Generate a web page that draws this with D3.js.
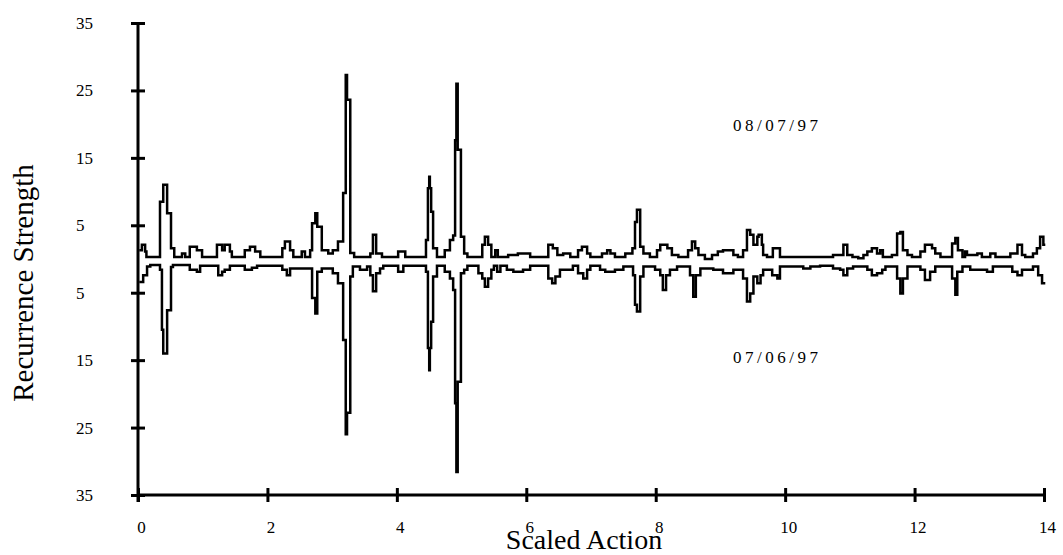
<!DOCTYPE html>
<html>
<head>
<meta charset="utf-8">
<script src="https://cdn.jsdelivr.net/npm/d3@7"></script>
<style>
  body { margin: 0; background: #fff; }
  text { font-family: "Liberation Serif", "Times New Roman", serif; fill: #000; }
</style>
</head>
<body>
<svg id="chart" width="1063" height="555"></svg>
<script>
var xTicks = [0, 2, 4, 6, 8, 10, 12, 14];
var yTicks = [35, 25, 15, 5, -5, -15, -25, -35];

// 08/07/97 trace, drawn upward: step start (scaled action) and strength
var upperX = [0.02, 0.06, 0.11, 0.13, 0.34, 0.39, 0.45, 0.51, 0.56, 0.68, 0.73, 0.80, 0.91, 0.99,
  1.22, 1.30, 1.34, 1.42, 1.45, 1.65, 1.73, 1.81, 1.89, 2.23, 2.27, 2.35, 2.40, 2.53, 2.58,
  2.66, 2.69, 2.74, 2.77, 2.84, 2.94, 3.01, 3.09, 3.17, 3.21, 3.23, 3.28, 3.34, 3.59, 3.63,
  3.68, 3.77, 4.02, 4.13, 4.45, 4.48, 4.50, 4.51, 4.53, 4.56, 4.62, 4.74, 4.82, 4.87, 4.90,
  4.92, 4.94, 4.99, 5.04, 5.09, 5.32, 5.36, 5.41, 5.46, 5.52, 5.56, 5.72, 5.87, 6.06, 6.34,
  6.41, 6.48, 6.57, 6.68, 6.80, 6.86, 6.94, 6.99, 7.17, 7.25, 7.30, 7.37, 7.53, 7.64, 7.68,
  7.71, 7.76, 7.81, 7.91, 8.02, 8.07, 8.18, 8.25, 8.35, 8.50, 8.56, 8.61, 8.66, 8.76, 8.87,
  8.96, 9.04, 9.20, 9.27, 9.35, 9.41, 9.46, 9.51, 9.57, 9.59, 9.64, 9.66, 9.72, 9.81, 9.92,
  10.74, 10.90, 10.96, 11.04, 11.13, 11.21, 11.27, 11.34, 11.42, 11.47, 11.51, 11.65, 11.73,
  11.78, 11.82, 11.89, 11.96, 12.09, 12.16, 12.27, 12.32, 12.40, 12.58, 12.63, 12.67, 12.74,
  12.78, 12.81, 12.97, 13.04, 13.17, 13.25, 13.48, 13.59, 13.66, 13.71, 13.83, 13.89, 13.94,
  13.99, 14.02];
var upperV = [1.3, 2.1, 1.1, 0.3, 8.5, 11.0, 6.8, 1.6, 0.3, 0.8, 0.3, 1.8, 1.3, 0.3,
  2.1, 1.3, 2.1, 1.1, 0.3, 1.3, 1.8, 1.1, 0.3, 1.6, 2.6, 1.3, 0.3, 1.1, 0.3,
  1.3, 5.3, 6.8, 4.8, 1.3, 0.8, 1.3, 2.6, 9.8, 27.3, 23.6, 0.9, 0.3, 0.8, 3.6,
  0.8, 0.3, 1.1, 0.3, 2.8, 10.5, 12.2, 10.5, 7.0, 1.6, 0.3, 1.3, 2.8, 3.5, 17.6,
  26.0, 16.2, 3.3, 0.8, 0.3, 2.1, 3.3, 2.1, 0.3, 1.3, 0.3, 0.6, 0.8, 0.3, 2.1,
  1.6, 0.6, 0.8, 0.3, 1.3, 1.8, 0.8, 0.3, 0.8, 1.3, 0.8, 0.3, 0.8, 1.6, 5.5,
  7.3, 1.8, 0.8, 0.3, 1.3, 2.1, 1.6, 0.6, 0.3, 1.3, 2.6, 1.6, 0.6, 0.0, 0.6,
  1.1, 1.3, 0.6, 0.3, 1.3, 4.3, 3.6, 2.1, 3.3, 3.6, 2.1, 0.6, 0.3, 1.6, 0.3,
  0.6, 2.1, 0.6, 0.3, 0.1, 0.6, 1.1, 1.6, 0.8, 1.3, 0.3, 0.6, 3.8,
  4.0, 1.3, 0.6, 0.3, 1.1, 2.1, 1.6, 0.8, 0.3, 2.3, 3.1, 1.3, 0.3,
  1.1, 0.6, 0.8, 0.3, 0.8, 0.3, 0.8, 2.1, 0.6, 0.3, 0.8, 1.6, 3.3,
  2.1, 2.1];

// 07/06/97 trace, drawn downward
var lowerX = [0.02, 0.08, 0.14, 0.19, 0.34, 0.37, 0.39, 0.45, 0.51, 0.54, 0.80, 0.91, 0.96,
  1.24, 1.30, 1.34, 1.42, 1.65, 1.76, 1.84, 2.23, 2.30, 2.35, 2.69, 2.74, 2.77, 2.84, 3.01,
  3.09, 3.17, 3.21, 3.23, 3.28, 3.32, 3.43, 3.54, 3.59, 3.63, 3.68, 3.74, 3.79, 4.02, 4.10,
  4.45, 4.48, 4.50, 4.51, 4.53, 4.56, 4.62, 4.74, 4.82, 4.87, 4.90, 4.92, 4.94, 4.99, 5.04,
  5.09, 5.26, 5.32, 5.36, 5.41, 5.46, 5.50, 5.55, 5.60, 5.70, 5.80, 5.95, 6.06, 6.34, 6.40,
  6.45, 6.52, 6.72, 6.80, 6.88, 6.94, 6.99, 7.14, 7.22, 7.37, 7.50, 7.65, 7.68, 7.71, 7.76,
  7.81, 7.99, 8.07, 8.11, 8.16, 8.22, 8.33, 8.53, 8.58, 8.62, 8.69, 8.89, 9.04, 9.20, 9.35,
  9.41, 9.46, 9.51, 9.57, 9.62, 9.66, 9.80, 9.88, 9.92, 10.28, 10.39, 10.54, 10.74, 10.85,
  10.90, 10.96, 11.05, 11.27, 11.34, 11.42, 11.50, 11.55, 11.73, 11.78, 11.82, 11.89, 12.09,
  12.16, 12.24, 12.32, 12.58, 12.63, 12.66, 12.74, 12.86, 13.12, 13.21, 13.51, 13.59, 13.66,
  13.83, 13.91, 13.97, 14.02];
var lowerV = [-3.4, -2.4, -1.1, -0.9, -1.6, -10.5, -14.0, -7.6, -1.2, -0.9, -1.6, -1.9, -1.0,
  -2.4, -1.9, -1.6, -1.0, -1.6, -1.3, -1.0, -1.6, -2.4, -1.4, -5.8, -8.1, -1.9, -1.4, -2.1,
  -3.6, -12.0, -26.0, -22.8, -2.6, -1.1, -1.6, -1.1, -2.4, -4.8, -2.1, -1.4, -1.0, -1.9, -1.0,
  -1.9, -13.2, -16.5, -13.2, -9.3, -2.6, -1.0, -1.9, -2.9, -4.6, -21.4, -31.6, -18.2, -2.1, -1.6,
  -1.0, -2.1, -2.9, -4.1, -2.9, -1.6, -1.0, -1.9, -1.0, -1.6, -1.9, -1.6, -1.0, -2.9, -3.6,
  -2.6, -1.6, -1.0, -2.1, -2.9, -1.6, -1.0, -1.6, -1.9, -1.6, -1.1, -2.4, -6.8, -7.8, -2.6,
  -1.1, -1.6, -2.4, -4.6, -2.4, -1.6, -1.1, -2.4, -5.6, -2.4, -1.4, -1.6, -2.1, -1.6, -2.9,
  -6.3, -5.1, -2.6, -3.6, -2.4, -1.6, -2.4, -2.9, -1.1, -1.4, -1.1, -1.0, -1.4, -1.6,
  -2.4, -1.4, -1.1, -1.6, -2.4, -2.1, -1.6, -1.1, -2.9, -5.1, -2.9, -1.1, -1.6,
  -3.1, -1.9, -1.1, -2.9, -5.3, -1.9, -1.1, -1.6, -1.9, -1.1, -1.9, -2.4, -1.6,
  -1.1, -2.4, -3.6, -3.6];

var svg = d3.select("#chart");

var x = d3.scaleLinear().domain([0, 14]).range([138, 1044]);
var y = d3.scaleLinear().domain([-35, 35]).range([495, 23]);

var line = d3.line()
  .x(function(d) { return x(d[0]); })
  .y(function(d) { return y(d[1]); })
  .curve(d3.curveStepAfter);

function pairs(xs, vs) {
  return xs.map(function(v, i) { return [v, vs[i]]; });
}

[pairs(upperX, upperV), pairs(lowerX, lowerV)].forEach(function(series) {
  svg.append("path")
    .datum(series)
    .attr("d", line)
    .attr("fill", "none")
    .attr("stroke", "#000")
    .attr("stroke-width", 2.5);
});

// y axis
var yAxis = svg.append("g")
  .attr("transform", "translate(" + x(0) + ",0)")
  .call(d3.axisLeft(y).tickValues(yTicks).tickFormat(function(d) { return Math.abs(d); }).tickSizeOuter(0));
yAxis.select(".domain").remove();
yAxis.append("line")
  .attr("y1", y(35)).attr("y2", y(-35) + 7)
  .attr("stroke", "#000").attr("stroke-width", 3);
yAxis.selectAll(".tick line")
  .attr("x1", -7).attr("x2", 7)
  .attr("stroke", "#000").attr("stroke-width", 3);
yAxis.selectAll(".tick text")
  .attr("x", 76 - x(0))
  .attr("text-anchor", "start")
  .style("font-size", "17px")
  .style("font-family", "Liberation Serif");

// x axis
var xAxis = svg.append("g")
  .attr("transform", "translate(0," + y(-35) + ")")
  .call(d3.axisBottom(x).tickValues(xTicks).tickSizeOuter(0));
xAxis.select(".domain").remove();
xAxis.append("line")
  .attr("x1", x(0)).attr("x2", x(14) + 1)
  .attr("stroke", "#000").attr("stroke-width", 3);
xAxis.selectAll(".tick line")
  .attr("y1", -7).attr("y2", 7)
  .attr("stroke", "#000").attr("stroke-width", 3);
xAxis.selectAll(".tick text")
  .attr("y", 26)
  .attr("dx", 3)
  .style("font-size", "17px")
  .style("font-family", "Liberation Serif");

// titles and annotations
svg.append("text")
  .attr("x", 584).attr("y", 549)
  .attr("text-anchor", "middle")
  .style("font-size", "28px")
  .text("Scaled Action");

svg.append("text")
  .attr("transform", "translate(33,283) rotate(-90)")
  .attr("text-anchor", "middle")
  .style("font-size", "29px")
  .text("Recurrence Strength");

svg.append("text")
  .attr("x", 733).attr("y", 131)
  .attr("textLength", 85).attr("lengthAdjust", "spacing")
  .style("font-size", "17px")
  .text("08/07/97");

svg.append("text")
  .attr("x", 733).attr("y", 363)
  .attr("textLength", 85).attr("lengthAdjust", "spacing")
  .style("font-size", "17px")
  .text("07/06/97");
</script>
</body>
</html>
